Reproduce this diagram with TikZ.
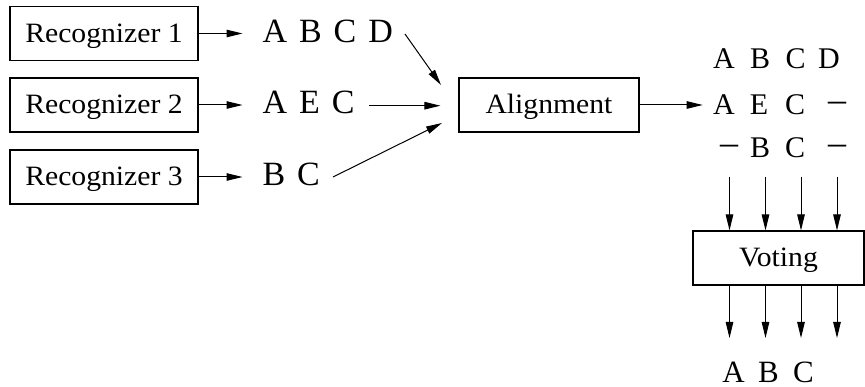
\documentclass[tikz,border=0pt]{standalone}
\usepackage{fontspec}
\setmainfont{Liberation Serif}
\newfontfamily\boxfont[FakeStretch=1.06]{Liberation Serif}
\usetikzlibrary{arrows.meta}
\newcommand\widespaces{\spaceskip=12pt\relax}

\begin{document}
\begin{tikzpicture}[x=1pt, y=-1pt, line width=1pt,
  arr/.style={-{Triangle[length=16pt,width=7.5pt]}},
  unit/.style={draw, line width=1.1pt, inner sep=0pt, minimum height=54pt,
    text height=22.4pt, text depth=4.4pt,
    font=\boxfont\fontsize{28}{34}\selectfont},
  seq/.style={inner sep=0pt, anchor=base west,
    font=\fontsize{34}{40}\selectfont,
    execute at begin node=\widespaces},
  cell/.style={inner sep=0pt, anchor=base, font=\fontsize{30}{36}\selectfont},
  outcell/.style={inner sep=0pt, anchor=base, font=\fontsize{31}{37}\selectfont},
]
\useasboundingbox (0,0) rectangle (865,387);

% recognizers and their outputs
\node[unit, minimum width=188pt] (r1) at (104,33.5) {Recognizer 1};
\node[unit, minimum width=188pt] (r2) at (104,105)  {Recognizer 2};
\node[unit, minimum width=188pt] (r3) at (104,177)  {Recognizer 3};

\node[seq] (s1) at (262,42.5)  {A B C D};
\node[seq] (s2) at (262,114)   {A E C};
\node[seq] (s3) at (262,185.5) {B C};

\foreach \i in {1,2,3}
  \draw[arr, shorten >=19.5pt] (r\i.east) -- (r\i.east -| s\i.west);

% alignment stage
\node[unit, minimum width=180pt] (al) at (549,105) {Alignment};

\coordinate (o1) at (405,34);
\coordinate (o2) at (369,105.7);
\coordinate (o3) at (333,177);
\coordinate (i1) at (441,85);
\coordinate (i3) at (442,123);
\draw[arr] (o1) -- (i1);
\draw[arr, shorten >=18pt] (o2) -- (o2 -| al.west);
\draw[arr] (o3) -- (i3);

% aligned hypotheses; a gap is shown as a dash
\def\nul{{\fontsize{36}{40}\selectfont\raisebox{3pt}{–}}}
\foreach \t/\x/\n in {A/724/1, B/760/2, C/795.5/3, D/829/4}
  \node[cell] (c1\n) at (\x,69) {\t};
\foreach \t/\x/\n in {A/724/1, E/759/2, C/795/3, \nul/837/4}
  \node[cell] (c2\n) at (\x,115) {\t};
\foreach \t/\x/\n in {\nul/729/1, B/760/2, C/795/3, \nul/837/4}
  \node[cell] (c3\n) at (\x,158) {\t};

\draw[arr, shorten >=10pt] (al.east) -- (al.east -| c21.west);

% voting stage
\node[unit, minimum width=171pt] (vo) at (778.5,258) {Voting};

\foreach \x [count=\k] in {729.5, 765.5, 801, 837} {
  \coordinate (v\k) at (\x,177);
  \coordinate (w\k) at (\x,338);
  \draw[arr] (v\k) -- (v\k |- vo.north);
  \draw[arr] (vo.south -| w\k) -- (w\k);
}

% final result
\foreach \t/\x/\n in {A/733.5/1, B/768.5/2, C/803.5/3}
  \node[outcell] (f\n) at (\x,382) {\t};
\end{tikzpicture}
\end{document}
